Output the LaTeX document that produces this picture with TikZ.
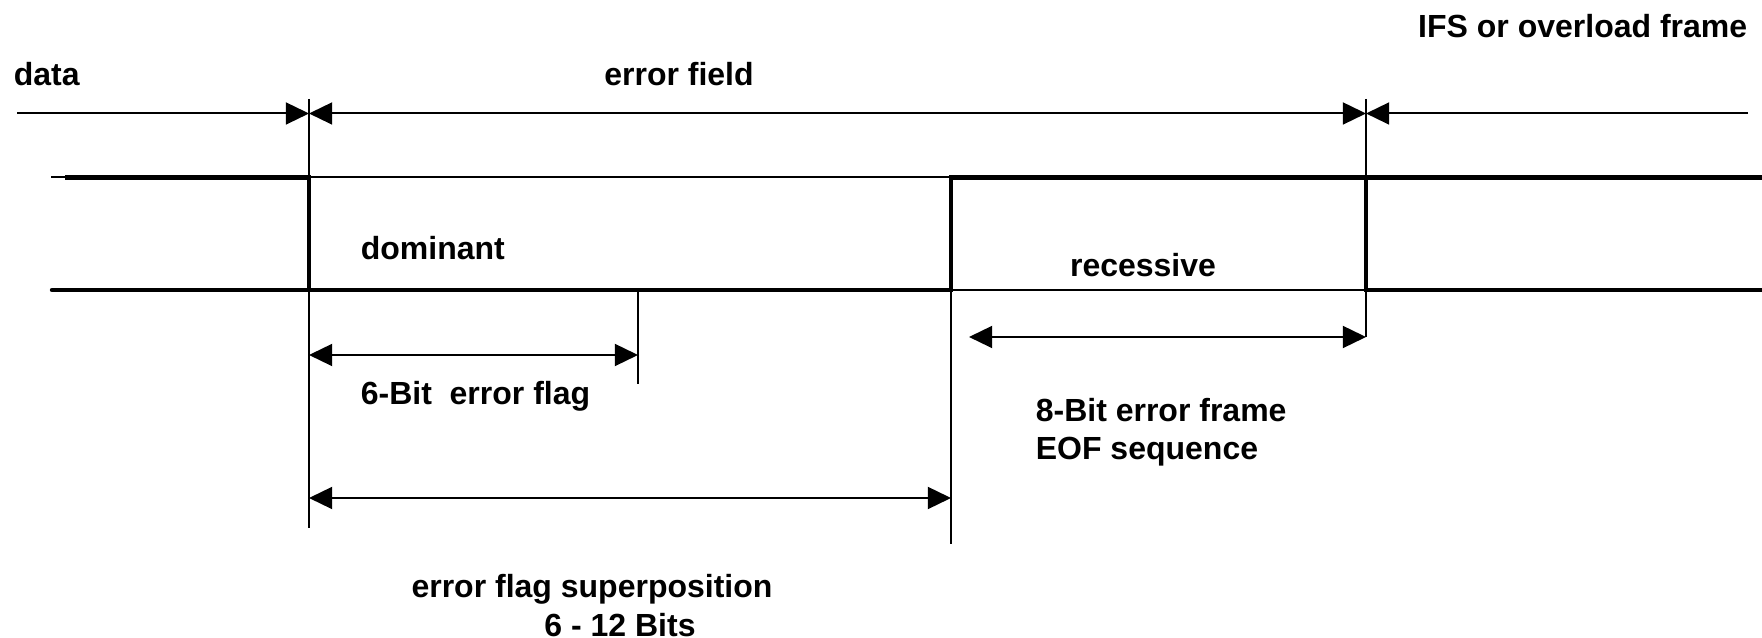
\documentclass[tikz,border=0pt]{standalone}
\usepackage{fontspec}
\setmainfont{Liberation Sans}
\usetikzlibrary{arrows.meta}
\begin{document}
\begin{tikzpicture}[x=0.25pt,y=-0.25pt,
  font=\fontsize{8}{9.3}\selectfont\bfseries,
  sig/.style={line width=1.1pt},
  lin/.style={line width=0.5pt},
  dim/.style={lin,-{Triangle[length=5.8pt,width=5.5pt]}},
  dimdim/.style={lin,{Triangle[length=5.8pt,width=5.5pt]}-{Triangle[length=5.8pt,width=5.5pt]}},
  lbl/.style={inner sep=0pt}]
\useasboundingbox (0,0) rectangle (1762,638);
% frame border arrows
\coordinate (t0) at (17,113.5);  \coordinate (t1) at (309,113.5);
\coordinate (t2) at (1366,113.5); \coordinate (t3) at (1748,113.5);
\draw[dim] (t0) -- (t1);
\draw[dimdim] (t1) -- (t2);
\draw[dim] (t3) -- (t2);
% bus levels
\coordinate (u0) at (51,177.5);  \coordinate (u1) at (65,177.5);
\coordinate (u2) at (309,177.5); \coordinate (u3) at (951,177.5);
\coordinate (u4) at (1366,177.5); \coordinate (u5) at (1762,177.5);
\coordinate (l0) at (52,290);    \coordinate (l2) at (309,290);
\coordinate (l3) at (951,290);   \coordinate (l4) at (1366,290);
\coordinate (l5) at (1762,290);
\draw[lin] (u0) -- (u1);
\draw[sig] (u1) -- (u2) -- (l2);
\draw[sig,line cap=round] (l0) -- (l3) -- (u3) -- (u5);
\draw[sig] (u4) -- (l4) -- (l5);
\draw[lin] (u2) -- (u3);
\draw[lin] (l3) -- (l4);
% marker lines
\coordinate (v1a) at (309,99);  \coordinate (v1b) at (309,528);
\coordinate (v2a) at (1366,99); \coordinate (v2b) at (1366,337);
\coordinate (v3b) at (951,544);
\coordinate (v4a) at (638,290); \coordinate (v4b) at (638,384);
\draw[lin] (v1a) -- (v1b);
\draw[lin] (v2a) -- (v2b);
\draw[lin] (l3) -- (v3b);
\draw[lin] (v4a) -- (v4b);
% lengths
\coordinate (f0) at (309,355);  \coordinate (f1) at (638,355);
\coordinate (e0) at (969,337);
\coordinate (s0) at (309,498);  \coordinate (s1) at (951,498);
\draw[dimdim] (f0) -- (f1);
\draw[dimdim] (e0) -- (v2b);
\draw[dimdim] (s0) -- (s1);
% labels
\node[lbl,anchor=west] (data) at (13,74) {data};
\node[lbl] (field) at (679,74) {error field};
\node[lbl,anchor=east] (ifs) at (1748,26) {IFS or overload frame};
\node[lbl,anchor=west] (dom) at (360,248) {dominant};
\node[lbl] (rec) at (1143,265) {recessive};
\node[lbl,anchor=west] (flag) at (360,396) {6-Bit\ \ error flag};
\node[lbl,anchor=west,align=left,font=\fontsize{8}{9.6}\selectfont\bfseries] (eof) at (1035,432) {8-Bit error frame\\EOF sequence};
\node[lbl] (sup) at (592,589) {error flag superposition};
\node[lbl] (bits) at (620,625) {6 - 12 Bits};
\end{tikzpicture}
\end{document}
